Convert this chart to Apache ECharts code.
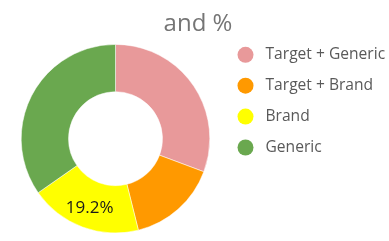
<!DOCTYPE html>
<html><head><meta charset="utf-8">
<script src="https://cdn.jsdelivr.net/npm/echarts@6/dist/echarts.min.js"></script>
<style>html,body{margin:0;padding:0;background:#fff}#c{width:389px;height:241px}</style>
</head><body><div id="c"></div>
<script>
const categories = ['Target + Generic', 'Target + Brand', 'Brand', 'Generic'];
const values = [30.7, 15.4, 19.2, 34.7];
const colors = ['#E8999A', '#FF9900', '#FFFF00', '#6AA84F'];
const labelled = ['Brand'];
const titleText = 'and %';

const chart = echarts.init(document.getElementById('c'), null, {renderer: 'canvas'});
chart.setOption({
  animation: false,
  title: {
    text: titleText, left: 193, top: 7, textAlign: 'center',
    textStyle: {fontFamily: 'Open Sans', fontSize: 24, fontWeight: 'normal', color: '#757575'}
  },
  legend: {
    orient: 'vertical', left: 237.5, top: 46.8, padding: 0,
    icon: 'circle', itemWidth: 16, itemHeight: 16, itemGap: 14.9,
    itemStyle: {borderWidth: 0},
    textStyle: {fontFamily: 'Open Sans', fontSize: 15.6, color: '#595959', padding: [0,0,0,7]},
    data: categories
  },
  series: [{
    type: 'pie',
    center: [115.5, 138.7], radius: [47, 94.3],
    startAngle: 90, clockwise: true,
    itemStyle: {borderColor: '#fff', borderWidth: 0.5},
    label: {show: false},
    labelLine: {show: false},
    emphasis: {disabled: true},
    data: categories.map((c, i) => ({
      name: c, value: values[i], itemStyle: {color: colors[i]},
      label: labelled.includes(c) ? {show: true, position: 'inside', formatter: p => p.value.toFixed(1) + '%',
        fontFamily: 'Open Sans', fontSize: 17, color: '#1a1a1a'} : {show: false}
    }))
  }]
});
</script></body></html>
